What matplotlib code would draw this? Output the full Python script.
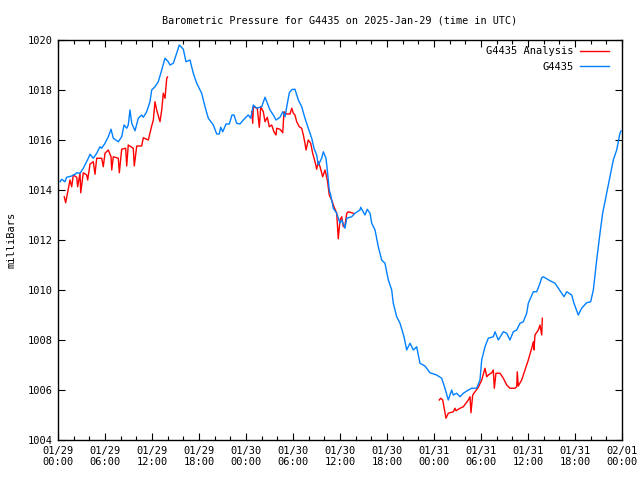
import numpy as np
import matplotlib
matplotlib.use('Agg')
import matplotlib.pyplot as plt
from matplotlib.ticker import MultipleLocator

# hours since 2025-01-29 00:00 UTC, pressure in mb
blue_h = [0.26, 0.47, 0.89, 1.11, 1.75, 2.17, 2.39, 2.81, 3.23, 3.87, 4.09, 4.51, 4.94, 5.36, 5.58,
          6.0, 6.42, 6.77, 7.06, 7.70, 8.13, 8.43, 8.77, 8.97, 9.19, 9.41, 9.83, 10.25, 10.68, 10.89,
          11.32, 11.74, 11.96, 12.38, 12.80, 13.24, 13.66, 14.08, 14.30, 14.72, 15.15, 15.48, 16.0,
          16.34, 16.85, 17.27, 17.71, 18.34, 18.77, 19.19, 19.83, 20.26, 20.59, 20.77, 21.03, 21.45,
          21.87, 22.21, 22.47, 22.81, 23.23, 23.74, 24.29, 24.60, 24.93, 25.37, 26.0, 26.43, 26.72,
          27.06, 27.49, 27.83, 28.34, 28.69, 28.98, 29.20, 29.53, 29.87, 30.25, 30.68, 31.11, 31.53,
          31.95, 32.39, 32.68, 33.02, 33.23, 33.66, 33.87, 34.21, 34.38, 34.63, 34.81, 35.14, 35.58,
          36.0, 36.22, 36.64, 36.86, 37.49, 37.91, 38.55, 38.64, 39.19, 39.48, 39.83, 40.05, 40.47,
          40.89, 41.32, 41.74, 42.17, 42.60, 42.80, 43.24, 43.66, 44.17, 44.51, 44.94, 45.36, 45.79,
          46.21, 46.85, 47.49, 48.34, 48.98, 49.40, 49.82, 50.26, 50.46, 50.90, 51.32, 51.74, 52.38,
          52.81, 53.45, 53.87, 54.09, 54.51, 54.93, 55.57, 55.79, 56.21, 56.85, 57.28, 57.70, 58.12,
          58.56, 58.98, 59.40, 59.83, 60.04, 60.68, 61.11, 61.53, 61.75, 61.95, 62.81, 63.45, 63.87,
          64.60, 64.94, 65.58, 65.87, 66.42, 66.85, 67.49, 68.0, 68.34, 68.77, 69.19, 69.53, 70.04,
          70.47, 70.89, 71.32, 71.74, 71.87]
blue_p = [1014.33, 1014.43, 1014.33, 1014.51, 1014.56, 1014.63, 1014.69, 1014.67, 1014.87, 1015.27,
          1015.43, 1015.27, 1015.47, 1015.73, 1015.67, 1015.87, 1016.13, 1016.43, 1016.07, 1015.93,
          1016.13, 1016.6, 1016.47, 1016.6, 1017.2, 1016.67, 1016.37, 1016.87, 1017.0, 1016.91,
          1017.13, 1017.53, 1018.0, 1018.13, 1018.33, 1018.8, 1019.27, 1019.13, 1019.0, 1019.07,
          1019.47, 1019.8, 1019.63, 1019.13, 1019.2, 1018.67, 1018.27, 1017.87, 1017.33, 1016.87,
          1016.6, 1016.24, 1016.24, 1016.51, 1016.33, 1016.64, 1016.64, 1017.0, 1017.0, 1016.67,
          1016.64, 1016.83, 1017.0, 1016.87, 1017.4, 1017.27, 1017.33, 1017.71, 1017.47, 1017.2,
          1017.0, 1016.8, 1016.91, 1017.13, 1016.93, 1017.33, 1017.89, 1018.02, 1018.03, 1017.6,
          1017.33, 1016.87, 1016.47, 1016.07, 1015.67, 1015.4, 1015.0, 1015.27, 1015.53, 1015.27,
          1014.8, 1014.0, 1013.8, 1013.27, 1013.07, 1012.67, 1012.8, 1012.47, 1012.87, 1012.93,
          1013.07, 1013.2, 1013.31, 1013.0, 1013.23, 1013.07, 1012.67, 1012.4, 1011.73, 1011.2,
          1011.07, 1010.4, 1010.0, 1009.47, 1008.93, 1008.67, 1008.13, 1007.6, 1007.87, 1007.6,
          1007.73, 1007.07, 1006.96, 1006.69, 1006.6, 1006.47, 1006.07, 1005.6, 1006.0, 1005.8,
          1005.87, 1005.73, 1005.87, 1006.0, 1006.07, 1006.07, 1006.4, 1007.2, 1007.73, 1008.07,
          1008.13, 1008.33, 1008.0, 1008.33, 1008.27, 1008.0, 1008.33, 1008.4, 1008.67, 1008.73,
          1009.07, 1009.47, 1009.93, 1009.93, 1010.27, 1010.49, 1010.53, 1010.37, 1010.27, 1010.07,
          1009.73, 1009.93, 1009.8, 1009.47, 1009.0, 1009.27, 1009.49, 1009.53, 1010.0, 1011.2,
          1012.27, 1013.07, 1013.87, 1014.53, 1015.2, 1015.6, 1016.27, 1016.36]

# analysis series, three runs separated by gaps (nan)
red_h = [0.80, 0.98, 1.24, 1.53, 1.75, 1.95, 2.39, 2.51, 2.81, 2.90, 3.23, 3.66, 3.79, 4.09, 4.51,
         4.72, 4.94, 5.58, 5.78, 6.0, 6.42, 6.77, 6.86, 7.06, 7.70, 7.83, 8.13, 8.64, 8.77, 8.97,
         9.61, 9.74, 10.05, 10.68, 10.89, 11.53, 11.96, 12.17, 12.38, 12.60, 13.02, 13.24, 13.44,
         13.66, 13.88, 13.98, np.nan,
         24.73, 24.86, 24.93, 25.44, 25.70, 25.88, 26.21, 26.43, 26.72, 26.97, 27.28, 27.57, 27.83,
         27.92, 28.34, 28.69, 28.85, 29.20, 29.62, 29.84, 30.04, 30.25, 30.47, 30.80, 31.11, 31.32,
         31.53, 31.66, 31.95, 32.26, 32.51, 32.81, 33.02, 33.23, 33.45, 33.79, 34.09, 34.38, 34.63,
         34.94, 35.23, 35.58, 35.78, 36.0, 36.22, 36.42, 36.64, 36.86, 37.06, 37.70, 37.79, np.nan,
         48.67, 48.85, 49.11, 49.53, 49.82, 50.46, 50.68, 50.81, 51.32, 51.74, 52.38, 52.60, 52.72,
         52.94, 53.23, 53.66, 54.09, 54.51, 54.73, 54.93, 55.37, 55.57, 55.70, 55.91, 56.43, 56.85,
         57.28, 57.70, 58.34, 58.56, 58.63, 58.76, 59.19, 59.62, 60.04, 60.47, 60.68, 60.77, 60.89,
         61.32, 61.53, 61.75, 61.83]
red_p = [1013.73, 1013.49, 1013.93, 1014.4, 1014.13, 1014.6, 1014.51, 1014.13, 1014.67, 1013.89,
         1014.69, 1014.6, 1014.4, 1015.04, 1015.13, 1014.63, 1015.27, 1015.27, 1014.93, 1015.47,
         1015.6, 1015.33, 1014.8, 1015.33, 1015.27, 1014.69, 1015.63, 1015.67, 1014.96, 1015.8,
         1015.67, 1014.96, 1015.76, 1015.76, 1016.09, 1016.0, 1016.56, 1016.8, 1017.53, 1017.2,
         1016.73, 1017.2, 1017.87, 1017.67, 1018.47, 1018.52, np.nan,
         1017.13, 1016.67, 1017.33, 1017.27, 1016.51, 1017.33, 1017.13, 1016.73, 1016.91, 1016.53,
         1016.6, 1016.33, 1016.2, 1016.47, 1016.43, 1016.29, 1017.13, 1017.04, 1017.04, 1017.27,
         1017.07, 1017.0, 1016.73, 1016.53, 1016.47, 1016.2, 1015.87, 1015.6, 1016.0, 1015.87,
         1015.47, 1015.13, 1014.83, 1015.13, 1014.93, 1014.53, 1014.8, 1014.4, 1013.8, 1013.6,
         1013.33, 1013.07, 1012.05, 1012.8, 1012.93, 1012.53, 1012.6, 1013.07, 1013.13, 1013.07,
         1013.04, np.nan,
         1005.6, 1005.67, 1005.6, 1004.87, 1005.07, 1005.13, 1005.27, 1005.17, 1005.27, 1005.33,
         1005.6, 1005.73, 1005.09, 1005.8, 1005.93, 1006.11, 1006.4, 1006.87, 1006.53, 1006.6,
         1006.69, 1006.8, 1006.07, 1006.67, 1006.67, 1006.47, 1006.2, 1006.07, 1006.07, 1006.13,
         1006.73, 1006.16, 1006.4, 1006.8, 1007.2, 1007.67, 1007.93, 1007.6, 1008.2, 1008.4,
         1008.6, 1008.2, 1008.87]

tick_hours = [0, 6, 12, 18, 24, 30, 36, 42, 48, 54, 60, 66, 72]
tick_labels = ['01/29\n00:00', '01/29\n06:00', '01/29\n12:00', '01/29\n18:00',
               '01/30\n00:00', '01/30\n06:00', '01/30\n12:00', '01/30\n18:00',
               '01/31\n00:00', '01/31\n06:00', '01/31\n12:00', '01/31\n18:00',
               '02/01\n00:00']

plt.rcParams['font.family'] = 'DejaVu Sans Mono'
plt.rcParams['font.size'] = 7.5

fig = plt.figure(figsize=(6.4, 4.8), dpi=100)
ax = fig.add_axes([58/640, 40/480, 564/640, 400/480])

ax.plot(red_h, red_p, color='#ff0000', lw=1.0, label='G4435 Analysis')
ax.plot(blue_h, blue_p, color='#0080ff', lw=1.0, label='G4435')

ax.set_xlim(0, 72)
ax.set_ylim(1004, 1020)
ax.set_xticks(tick_hours)
ax.set_xticklabels(tick_labels)
ax.xaxis.set_minor_locator(MultipleLocator(2))
ax.yaxis.set_major_locator(MultipleLocator(2))
ax.tick_params(which='both', direction='in', top=True, right=True, width=0.8, color='black')
ax.tick_params(which='major', length=5, pad=4)
ax.tick_params(which='minor', length=3)
for s in ax.spines.values():
    s.set_linewidth(1.0)

ax.set_title('Barometric Pressure for G4435 on 2025-Jan-29 (time in UTC)', fontsize=7.3, pad=12)
ax.set_ylabel('milliBars', labelpad=8)

ax.legend(loc='upper right', bbox_to_anchor=(0.985, 0.995), frameon=False, markerfirst=False,
          handlelength=2.8, handletextpad=0.6, labelspacing=0.55, borderaxespad=0)

plt.savefig('out.png', dpi=100)
